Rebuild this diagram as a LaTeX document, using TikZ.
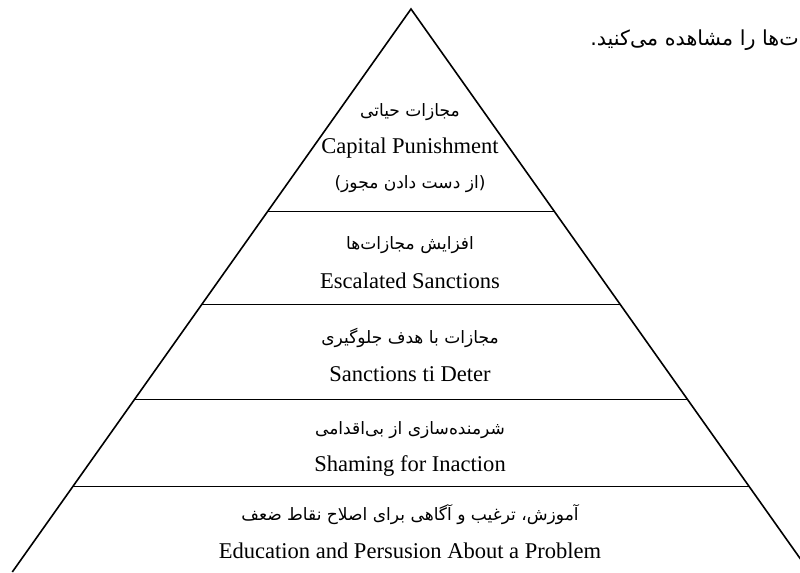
\documentclass[tikz,border=0pt]{standalone}
\usepackage{fontspec}
\setmainfont{Liberation Serif}
\newfontfamily\fafont[Script=Arabic]{DejaVu Sans}
\usetikzlibrary{positioning, calc}
\TeXXeTstate=1
\newcommand{\fa}[1]{{\fafont\fontsize{12.8}{15}\selectfont\beginR #1\endR}}
\newcommand{\fanote}[1]{{\fafont\fontsize{15.5}{18}\selectfont\beginR #1\endR}}
\tikzset{
	enline/.style={font=\fontsize{16.9}{20}\selectfont, inner sep=0pt},
	faline/.style={inner sep=0pt},
	side/.style={line width=1.2pt},
	layer/.style={line width=0.7pt}
}

\begin{document}
\begin{tikzpicture}[x=0.75pt, y=-0.75pt, node distance=27pt]
	\useasboundingbox (0,0) rectangle (800,572);
	\coordinate (apex) at (411,9);
	\coordinate (bl) at (12.3,572);
	\coordinate (br) at (809.7,572);
	\begin{scope}
		\clip (0,0) rectangle (800,572);
		\draw[side] (bl) -- (apex) -- (br);
	\end{scope}
	\foreach \t in {0.3588,0.524,0.6927,0.8472}
		\draw[layer] ($(apex)!\t!(bl)$) -- ($(apex)!\t!(br)$);
	
	\node[faline, anchor=east] (note) at (799,40) {\fanote{ت‌ها را مشاهده می‌کنید.}};
	
	\node[faline] (p1) at (410,112) {\fa{مجازات حیاتی}};
	\node[enline, below of = p1] (e1) {Capital Punishment};
	\node[faline, below of = e1] (p1b) {\fa{(از دست دادن مجوز)}};
	\node[faline] (p2) at (410,245) {\fa{افزایش مجازات‌ها}};
	\node[enline, below of = p2] (e2) {Escalated Sanctions};
	\node[faline] (p3) at (410,338) {\fa{مجازات با هدف جلوگیری}};
	\node[enline, below of = p3] (e3) {Sanctions ti Deter};
	\node[faline] (p4) at (410,430) {\fa{شرمنده‌سازی از بی‌اقدامی}};
	\node[enline, below of = p4] (e4) {Shaming for Inaction};
	\node[faline] (p5) at (410,515) {\fa{آموزش، ترغیب و آگاهی برای اصلاح نقاط ضعف}};
	\node[enline, below of = p5] (e5) {Education and Persusion About a Problem};
	
\end{tikzpicture}
\end{document}
